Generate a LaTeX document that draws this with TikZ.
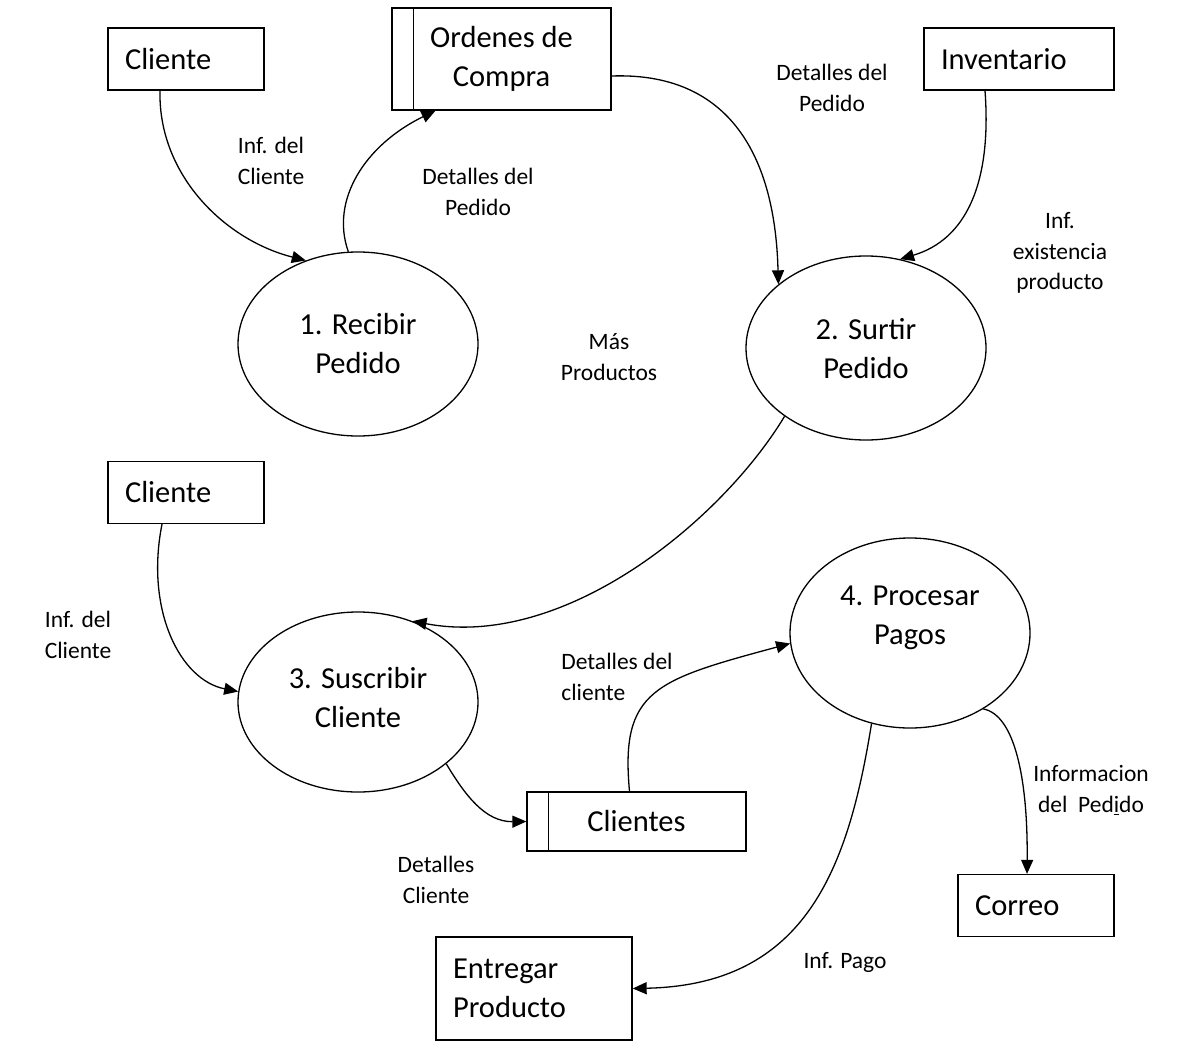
\documentclass[tikz,border=0pt]{standalone}
\usepackage{fontspec}
\setmainfont{Carlito}
\usetikzlibrary{shapes.geometric,arrows.meta}
\begin{document}
\begin{tikzpicture}[x=1pt,y=-1pt,
  line width=1.3pt,
  big/.style={font=\fontsize{30.5}{39}\selectfont},
  lbl/.style={font=\fontsize{23.5}{30.5}\selectfont, align=center, inner sep=0pt},
  entity/.style={draw, big, align=left, inner xsep=17pt, inner ysep=0pt, text width=#1},
  store/.style={draw, big, align=center, inner sep=0pt},
  proc/.style={draw, ellipse, inner sep=0pt,
    minimum width=240pt, minimum height=184pt},
  proctext/.style={big, align=center, inner sep=0pt},
  flow/.style={-{Triangle[length=14pt,width=12pt]}, line width=1.3pt}]
\useasboundingbox (0,0) rectangle (1182,1051);

% external entities
\node[entity=122pt, minimum height=62pt] (cli1) at (186,59) {Cliente\\[-4pt]};
\node[entity=156pt, minimum height=62pt] (inv) at (1019,59) {Inventario\\[-4pt]};
\node[entity=122pt, minimum height=62pt] (cli2) at (186,492.5) {Cliente\\[-4pt]};
\node[entity=122pt, minimum height=62pt] (cor) at (1036,905.5) {Correo};
\node[entity=162pt, minimum height=103pt] (ent) at (534,988.5) {Entregar\\Producto};

% data stores
\node[store, minimum width=219pt, minimum height=102pt] (oc) at (501.5,59) {Ordenes de\\Compra};
\draw ([xshift=22pt]oc.north west) -- ([xshift=22pt]oc.south west);
\node[store, minimum width=219pt, minimum height=59pt] (cls) at (636.5,821.5) {Clientes};
\draw ([xshift=22pt]cls.north west) -- ([xshift=22pt]cls.south west);

% processes
\node[proc] (p1) at (358,344) {};
\node[proctext] (p1t) at (358,343.5) {1. Recibir\\Pedido};
\node[proc] (p2) at (866,348) {};
\node[proctext] (p2t) at (866,349) {2. Surtir\\Pedido};
\node[proc, minimum height=180pt] (p3) at (358,702) {};
\node[proctext] (p3t) at (358,697.5) {3. Suscribir\\Cliente};
\node[proc, minimum height=190pt] (p4) at (910,633) {};
\node[proctext] (p4t) at (910,617.5) {4. Procesar\\Pagos};

% data flows
\draw[flow] ([xshift=-26pt]cli1.south) .. controls (158,175) and (225,240) .. (p1.122);
\draw[flow] (p1.96) .. controls (330,200) and (365,145) .. ([xshift=-66pt]oc.south);
\draw[flow] ([yshift=-17pt]oc.east) .. controls (725,72) and (775,150) .. (p2.144);
\draw[flow] ([xshift=-34pt]inv.south) .. controls (992,185) and (965,240) .. (p2.69);
\draw[flow] (p2.220) .. controls (722,520) and (565,650) .. (p3.56);
\draw[flow] ([xshift=-24pt]cli2.south) .. controls (145,610) and (180,680) .. (p3.175);
\draw[flow] (p3.325) .. controls (465,795) and (485,822) .. (cls.west);
\draw[flow] ([xshift=-7pt]cls.north) .. controls (620,690) and (655,680) .. (p4.185);
\draw[flow] (p4.247) .. controls (848,870) and (805,985) .. (ent.east);
\draw[flow] (p4.314) .. controls (1015,715) and (1028,780) .. ([xshift=-9pt]cor.north);

% flow labels
\node[lbl] (l1) at (271,161) {Inf. del\\Cliente};
\node[lbl] (l2) at (478,192) {Detalles del\\Pedido};
\node[lbl] (l3) at (832,88) {Detalles del\\Pedido};
\node[lbl] (l4) at (1060,253) {Inf.\\existencia\\producto};
\node[lbl] (l5) at (609,357) {Más\\Productos};
\node[lbl] (l6) at (78,635) {Inf. del\\Cliente};
\node[lbl, align=left] (l7) at (617,677) {Detalles del\\cliente};
\node[lbl] (l8) at (436,880) {Detalles\\Cliente};
\node[lbl] (l9) at (1091,790) {Informacion\\del\ \ Ped\underline{i}do};
\node[lbl] (l10) at (845,962) {Inf. Pago};
\end{tikzpicture}
\end{document}
